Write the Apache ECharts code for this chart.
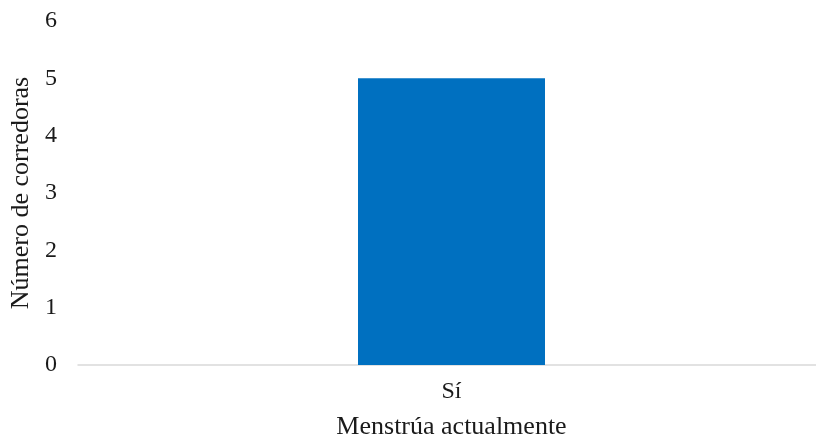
<!DOCTYPE html>
<html>
<head>
<meta charset="utf-8">
<script src="https://cdn.jsdelivr.net/npm/echarts@6/dist/echarts.min.js"></script>
<style>
  html, body { margin: 0; padding: 0; background: #fff; }
  #chart { width: 816px; height: 443px; }
</style>
</head>
<body>
<div id="chart"></div>
<script>
// Respuesta y número de corredoras
const categories = ['Sí'];
const values = [5];
const yTicks = { min: 0, max: 6, interval: 1 };

const chart = echarts.init(document.getElementById('chart'), null, { renderer: 'canvas' });
const font = '"Liberation Serif", "Times New Roman", serif';

chart.setOption({
  animation: false,
  grid: { left: 78, right: -9, top: 21, bottom: 78, containLabel: false, outerBoundsMode: 'none' },
  xAxis: {
    type: 'category',
    data: categories,
    name: 'Menstrúa actualmente',
    nameLocation: 'middle',
    nameGap: 49,
    nameTextStyle: { fontFamily: font, fontSize: 26, color: '#1a1a1a' },
    axisLine: { lineStyle: { color: '#d9d9d9', width: 1.5 } },
    axisTick: { show: false },
    axisLabel: { fontFamily: font, fontSize: 24, color: '#1a1a1a', margin: 15 }
  },
  yAxis: {
    type: 'value',
    min: yTicks.min,
    max: yTicks.max,
    interval: yTicks.interval,
    name: 'Número de corredoras',
    nameLocation: 'middle',
    nameGap: 43,
    nameTextStyle: { fontFamily: font, fontSize: 26, color: '#1a1a1a' },
    splitLine: { show: false },
    axisLine: { show: false },
    axisTick: { show: false },
    axisLabel: { fontFamily: font, fontSize: 24, color: '#1a1a1a', margin: 21 }
  },
  series: [{
    type: 'bar',
    data: values,
    barWidth: 187,
    itemStyle: { color: '#0070C0' }
  }]
});
</script>
</body>
</html>
